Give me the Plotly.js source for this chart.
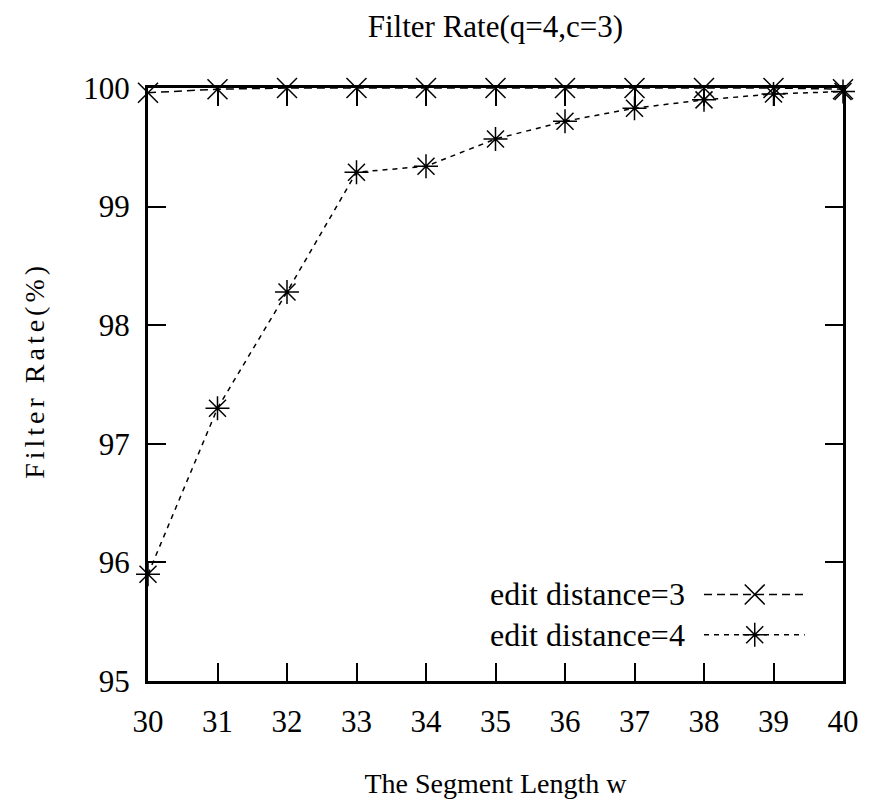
<!DOCTYPE html>
<html>
<head>
<meta charset="utf-8">
<script src="https://cdn.plot.ly/plotly-3.0.1.min.js"></script>
<style>
html,body{margin:0;padding:0;background:#fff;}
#chart{width:873px;height:806px;}
#chart g.annotation[data-index="2"] text{letter-spacing:4px;}
</style>
</head>
<body>
<div id="chart"></div>
<script>
const segmentLength = [30, 31, 32, 33, 34, 35, 36, 37, 38, 39, 40];
const editDistance3 = [99.96, 99.99, 100, 100, 100, 100, 100, 100, 100, 100, 99.99];
const editDistance4 = [95.9, 97.3, 98.28, 99.29, 99.34, 99.57, 99.72, 99.83, 99.9, 99.95, 99.97];
const seriesNames = ["edit distance=3", "edit distance=4"];
const xTicks = [30, 31, 32, 33, 34, 35, 36, 37, 38, 39, 40];
const yTicks = [95, 96, 97, 98, 99, 100];
const yTitle = "Filter Rate(%)";

const serif = "'Liberation Serif', 'Times New Roman', serif";

// legend key layout (in plot-area fraction)
const keyX = [0.80, 0.873, 0.945];
const keyY = [0.146, 0.078];

const traces = [
  {
    x: segmentLength, y: editDistance3, name: seriesNames[0], type: "scatter", mode: "lines+markers",
    line: {color: "#000", width: 1.5, dash: "8px,5px"},
    marker: {symbol: "x-thin-open", size: 20, color: "#000", line: {color: "#000", width: 1.5}},
    cliponaxis: false, showlegend: false
  },
  {
    x: segmentLength, y: editDistance4, name: seriesNames[1], type: "scatter", mode: "lines+markers",
    line: {color: "#000", width: 1.5, dash: "5px,5px"},
    marker: {symbol: "asterisk-open", size: 20, color: "#000", line: {color: "#000", width: 1.5}},
    cliponaxis: false, showlegend: false
  },
  {
    x: keyX, y: [keyY[0], keyY[0], keyY[0]], xaxis: "x2", yaxis: "y2", type: "scatter", mode: "lines",
    line: {color: "#000", width: 1.5, dash: "8px,5px"}, showlegend: false, hoverinfo: "skip"
  },
  {
    x: [keyX[1]], y: [keyY[0]], xaxis: "x2", yaxis: "y2", type: "scatter", mode: "markers",
    marker: {symbol: "x-thin-open", size: 20, color: "#000", line: {color: "#000", width: 1.5}}, showlegend: false, hoverinfo: "skip"
  },
  {
    x: keyX, y: [keyY[1], keyY[1], keyY[1]], xaxis: "x2", yaxis: "y2", type: "scatter", mode: "lines",
    line: {color: "#000", width: 1.5, dash: "5px,5px"}, showlegend: false, hoverinfo: "skip"
  },
  {
    x: [keyX[1]], y: [keyY[1]], xaxis: "x2", yaxis: "y2", type: "scatter", mode: "markers",
    marker: {symbol: "asterisk-open", size: 20, color: "#000", line: {color: "#000", width: 1.5}}, showlegend: false, hoverinfo: "skip"
  }
];

const layout = {
  width: 873, height: 806,
  margin: {l: 148, r: 30, t: 88, b: 125},
  paper_bgcolor: "#fff", plot_bgcolor: "#fff",
  font: {family: serif, size: 30, color: "#000"},
  showlegend: false,
  title: {text: "Filter Rate(q=4,c=3)", x: 0.5675, xanchor: "center", y: 0.968, yanchor: "middle",
          font: {family: serif, size: 31, color: "#000"}},
  xaxis: {
    range: [30, 40], tickmode: "array", tickvals: xTicks, ticktext: xTicks.map(String),
    showgrid: false, zeroline: false,
    showline: true, linecolor: "#000", linewidth: 3, mirror: "allticks",
    ticks: "inside", ticklen: 18, tickwidth: 2, tickcolor: "#000",
    ticklabelstandoff: 11,
    tickfont: {family: serif, size: 31, color: "#000"},
    title: {text: "The Segment Length w", font: {family: serif, size: 28, color: "#000"}, standoff: 36}
  },
  yaxis: {
    range: [95, 100], tickmode: "array", tickvals: yTicks, ticktext: yTicks.map(String),
    showgrid: false, zeroline: false,
    showline: true, linecolor: "#000", linewidth: 3, mirror: "allticks",
    ticks: "inside", ticklen: 18, tickwidth: 2, tickcolor: "#000",
    ticklabelstandoff: 9,
    tickfont: {family: serif, size: 31, color: "#000"}
  },
  xaxis2: {domain: [0, 1], range: [0, 1], overlaying: "x", anchor: "y2", visible: false, fixedrange: true},
  yaxis2: {domain: [0, 1], range: [0, 1], overlaying: "y", anchor: "x2", visible: false, fixedrange: true},
  annotations: [
    {text: seriesNames[0], xref: "paper", yref: "paper", x: 0.775, y: keyY[0], xanchor: "right", yanchor: "middle",
     showarrow: false, font: {family: serif, size: 32, color: "#000"}},
    {text: seriesNames[1], xref: "paper", yref: "paper", x: 0.775, y: keyY[1], xanchor: "right", yanchor: "middle",
     showarrow: false, font: {family: serif, size: 32, color: "#000"}},
    {text: yTitle, xref: "paper", yref: "paper", x: 0, y: 0.523, xanchor: "center", yanchor: "middle",
     xshift: -113, textangle: -90, showarrow: false, font: {family: serif, size: 28, color: "#000"}}
  ]
};

Plotly.newPlot("chart", traces, layout, {displayModeBar: false, staticPlot: true});
</script>
</body>
</html>
